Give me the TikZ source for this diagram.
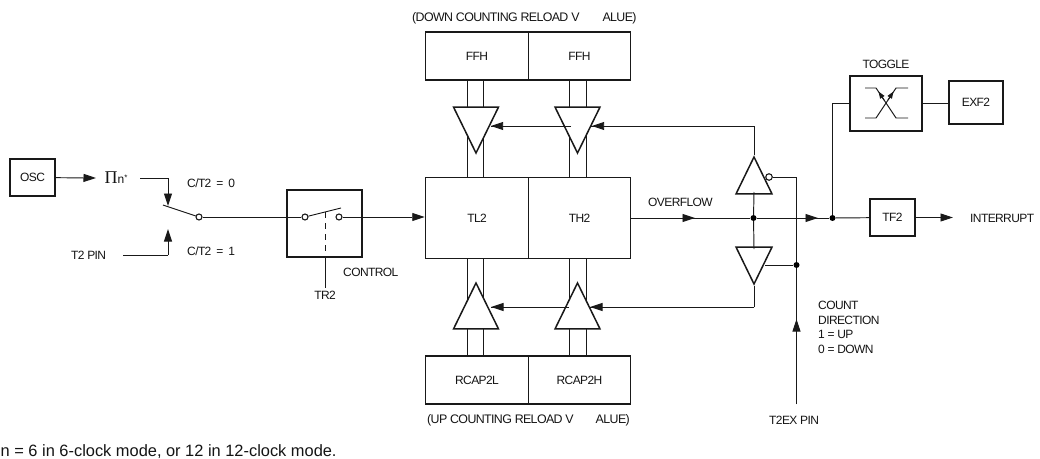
\documentclass[tikz,border=0pt]{standalone}
\usepackage{fontspec}
\setmainfont[LetterSpace=-5]{Liberation Sans}
\newfontfamily\notefont{Liberation Sans}
\newfontfamily\pifont{Liberation Serif}
\usetikzlibrary{arrows.meta,shapes.geometric,calc}
\tikzset{
  ln/.style={line width=0.95pt,draw=black!90},
  arr/.style={ln,-{Triangle[length=12.5pt,width=8pt]}},
  small arr/.style={ln,-{Triangle[length=7pt,width=5pt]}},
  blk/.style={draw=black!90,line width=1.5pt,fill=white,inner sep=0pt,font=\fontsize{12}{12}\selectfont,text=black!92},
  lbl/.style={inner sep=0pt,font=\fontsize{12}{12}\selectfont,text=black!92},
  wide lbl/.style={lbl,font=\fontsize{12.4}{13}\selectfont},
  tridn/.style={draw=black!90,line width=1.5pt,fill=white,isosceles triangle,isosceles triangle stretches,shape border rotate=-90,minimum width=45pt,minimum height=46pt,inner sep=0pt,anchor=apex},
  triup/.style={tridn,shape border rotate=90},
  smdn/.style={tridn,minimum width=36pt,minimum height=37pt},
  smup/.style={triup,minimum width=36pt,minimum height=37pt},
  dot/.style={circle,fill=black,inner sep=0pt,minimum size=6pt},
  opn/.style={circle,draw=black!90,line width=1.1pt,fill=white,inner sep=0pt,minimum size=6pt},
}
\begin{document}
\begin{tikzpicture}[x=1pt,y=-1pt]
\useasboundingbox (0,0) rectangle (1040,458);
% blocks
\node[blk,minimum width=45pt,minimum height=37pt] (osc) at (32.5,177.5) {OSC};
\node[lbl,anchor=west] (div) at (104.5,178) {{\pifont\fontsize{18}{18}\selectfont Π}\raisebox{0pt}{n}\raisebox{3pt}{\fontsize{8}{8}\selectfont *}};
\node[blk,minimum width=75pt,minimum height=67pt] (ctl) at (324.5,223.5) {};
\node[blk,minimum width=103pt,minimum height=48pt] (ffhl) at (477,56) {FFH};
\node[blk,minimum width=102pt,minimum height=48pt] (ffhh) at (579.5,56) {FFH};
\node[blk,minimum width=103pt,minimum height=81pt] (tl) at (477,218) {TL2};
\node[blk,minimum width=102pt,minimum height=81pt] (th) at (579.5,218) {TH2};
\node[blk,minimum width=103pt,minimum height=48pt] (rl) at (477,380) {RCAP2L};
\node[blk,minimum width=102pt,minimum height=48pt] (rh) at (579.5,380) {RCAP2H};
\node[blk,minimum width=72pt,minimum height=55pt] (tog) at (886,103.5) {};
\node[blk,minimum width=54pt,minimum height=43pt] (exf) at (976,102.5) {EXF2};
\node[blk,minimum width=45pt,minimum height=37pt] (tf) at (892.5,217.5) {TF2};
% coordinates
\coordinate (sw0) at (168,178);
\coordinate (sw0t) at (168,206);
\coordinate (sw1) at (168,255);
\coordinate (sw1t) at (168,229);
\coordinate (t2s) at (123,255);
\coordinate (divend) at (140,178);
\coordinate (arm) at (163,205);
\coordinate (arm2) at (341,208);
\coordinate (tr2end) at (325,288);
\coordinate (ovt) at (695,218);
\coordinate (j2t) at (818,218);
\coordinate (intt) at (953,217.5);
\coordinate (dirbot) at (796.5,404);
\coordinate (dirt) at (796.5,319);
\coordinate (bubc) at (796.5,177);
\coordinate (upbus) at (754,126);
\coordinate (lobus) at (754,307);
\coordinate (d1) at (490.7,126);
\coordinate (d2) at (591.7,126);
\coordinate (u1) at (491,307);
\coordinate (u2) at (590,307);
% buses
\foreach \x in {467.5,483.5,569.5,586}{
  \draw[ln] (\x,80) -- (\x,177.5);
  \draw[ln] (\x,258.5) -- (\x,356);
}
% enable-line drawn beneath triangles
\draw[ln] (upbus) -- (d1);
\draw[ln] (lobus) -- (u1);
\node[tridn] (td1) at (476,155) {};
\node[tridn] (td2) at (577.5,155) {};
\node[triup] (tu1) at (476,281) {};
\node[triup] (tu2) at (577.5,281) {};
\draw[arr] (td2.west |- d1) ++(10,0) -- (d1);
\draw[arr] (upbus) -- (d2);
\draw[arr] (tu2.west |- u1) ++(8,0) -- (u1);
\draw[arr] (lobus) -- (u2);
% right-hand enable buffers
\node[smup] (bu) at (754,155) {};
\node[smdn] (bd) at (754,286) {};
\node[dot] (j1) at (753.5,218) {};
\node[dot] (j2) at (832.5,218) {};
\node[dot] (j3) at (796.5,265) {};
\draw[ln] (bu.apex) -- (upbus);
\draw[ln] (bd.apex) -- (lobus);
\draw[ln] (754,192) -- (j1) -- (754,249);
\node[opn,minimum size=6.5pt] (bub) at (769,177) {};
\draw[ln] (bub) -- (bubc) -- (j3);
\draw[ln] (765,265) -- (j3);
\draw[ln] (dirbot) -- (j3);
\draw[arr] (dirbot) -- (dirt);
% main signal path
\draw[arr] (osc) -- (96,178);
\draw[ln] (divend) -- (sw0);
\draw[arr] (sw0) -- (sw0t);
\draw[ln] (t2s) -- (sw1);
\draw[arr] (sw1) -- (sw1t);
\node[opn] (c1) at (199,217) {};
\node[opn] (c2) at (305,217) {};
\node[opn] (c3) at (339,217) {};
\draw[ln] (arm) -- (c1);
\draw[ln] (c1) -- (c2);
\draw[ln] (c2) -- (arm2);
\draw[arr] (c3) -- (tl.west |- c3);
\draw[ln,dash pattern=on 6pt off 5pt] (325,212) -- (325,257);
\draw[ln] (325,257) -- (tr2end);
\draw[ln] (th.east) -- (j1);
\draw[arr] (th.east) -- (ovt);
\draw[ln] (j1) -- (j2);
\draw[arr] (j1) -- (j2t);
\draw[ln] (j2) -- (tf);
\draw[arr] (tf) -- (intt);
\draw[ln] (j2) |- (tog.west);
\draw[ln] (tog.east) -- (exf.west |- tog.east);
% toggle symbol
\coordinate (xa) at (865,88);\coordinate (xb) at (876,88);\coordinate (xc) at (896,118);\coordinate (xd) at (908,118);
\coordinate (ya) at (865,118);\coordinate (yb) at (876,118);\coordinate (yc) at (896,88);\coordinate (yd) at (908,88);
\draw[ln] (xa) -- (xb) -- (xc) -- (xd);
\draw[ln] (ya) -- (yb) -- (yc) -- (yd);
\draw[small arr] (884,100) -- (878.5,91.5);
\draw[small arr] (888,100) -- (893.5,91.5);
% labels
\node[wide lbl,anchor=west] (l1) at (412,18) {(DOWN COUNTING RELOAD V\hspace{23pt}ALUE)};
\node[wide lbl,anchor=west] (l2) at (427,420) {(UP COUNTING RELOAD V\hspace{22pt}ALUE)};
\node[lbl,anchor=west] (l3) at (187,183) {C/T2\hspace{5pt}=\hspace{5pt}0};
\node[lbl,anchor=west] (l4) at (187,251) {C/T2\hspace{5pt}=\hspace{5pt}1};
\node[lbl,anchor=west] (l5) at (71,255) {T2 PIN};
\node[lbl,anchor=west] (l6) at (343,272) {CONTROL};
\node[lbl] (l7) at (325,295) {TR2};
\node[lbl,anchor=west] (l8) at (648,202) {OVERFLOW};
\node[lbl] (l9) at (886,64) {TOGGLE};
\node[lbl,anchor=west] (l10) at (970,218) {INTERRUPT};
\node[lbl,anchor=north west,align=left,font=\fontsize{12}{14.7}\selectfont] (l11) at (818,301) {COUNT\\DIRECTION\\1 = UP\\0 = DOWN};
\node[lbl,anchor=west] (l12) at (769,420) {T2EX PIN};
\node[lbl,anchor=base west,font=\notefont\fontsize{16.4}{17}\selectfont] (l13) at (0.5,456) {n = 6 in 6-clock mode, or 12 in 12-clock mode.};
\end{tikzpicture}
\end{document}
